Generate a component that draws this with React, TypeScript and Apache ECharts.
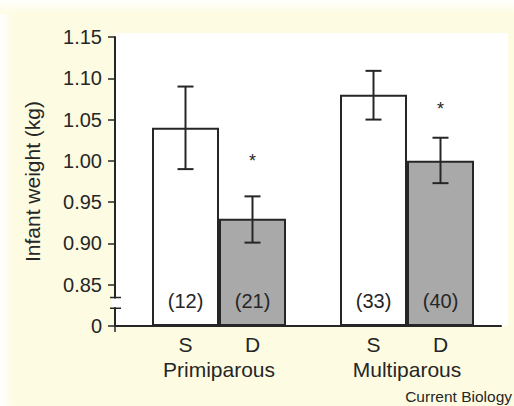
import React, { useEffect, useRef } from "react";
import * as echarts from "echarts";

const groups = ["Primiparous", "Multiparous"];
const subLabels = ["S", "D"];
const sMeans = [1.04, 1.08];
const sLow = [0.99, 1.05];
const sHigh = [1.09, 1.109];
const dMeans = [0.93, 1.0];
const dLow = [0.901, 0.973];
const dHigh = [0.957, 1.028];
const sN = [12, 33];
const dN = [21, 40];
const starY = [1.004, 1.066];
const yTicks = ["0", "0.85", "0.90", "0.95", "1.00", "1.05", "1.10", "1.15"];

const BASE = 0.8;
const FONT = "'Liberation Sans', Arial, Helvetica, sans-serif";
const BAR_W = 67;
const INK = "#262626";

function errSeries(low: number[], high: number[], offset: number) {
  return {
    type: "custom",
    z: 5,
    silent: true,
    data: low.map((l, i) => [i, l - BASE, high[i] - BASE]),
    renderItem: (params: any, api: any) => {
      const c = api.value(0);
      const lo = api.coord([c, api.value(1)]);
      const hi = api.coord([c, api.value(2)]);
      const x = lo[0] + offset;
      const cap = 8;
      const style = { stroke: INK, lineWidth: 2 };
      return {
        type: "group",
        children: [
          { type: "line", shape: { x1: x, y1: lo[1], x2: x, y2: hi[1] }, style },
          { type: "line", shape: { x1: x - cap, y1: lo[1], x2: x + cap, y2: lo[1] }, style },
          { type: "line", shape: { x1: x - cap, y1: hi[1], x2: x + cap, y2: hi[1] }, style },
        ],
      };
    },
  };
}

export default function App() {
  const ref = useRef<HTMLDivElement>(null);
  useEffect(() => {
    document.body.style.margin = "0";
    const chart = echarts.init(ref.current!, null, { renderer: "svg" });
    const option: any = {
      animation: false,
      backgroundColor: "#fdfce2",
      grid: { left: 125, right: 13, top: 37, bottom: 80, containLabel: false },
      xAxis: {
        type: "category",
        data: groups,
        axisLine: { lineStyle: { color: INK, width: 2 } },
        axisTick: {
          length: 5,
          lineStyle: { color: INK, width: 1.5 },
          interval: (index: number) => index !== 0,
        },
        axisLabel: {
          margin: 6,
          color: INK,
          fontFamily: FONT,
          formatter: (v: string) => `{s|${subLabels[0]}}{d|${subLabels[1]}}\n{n|${v}}`,
          rich: {
            s: { width: BAR_W, align: "center", fontSize: 21, fontFamily: FONT, color: INK, lineHeight: 24 },
            d: { width: BAR_W, align: "center", fontSize: 21, fontFamily: FONT, color: INK, lineHeight: 24 },
            n: { fontSize: 21, fontFamily: FONT, color: INK, lineHeight: 26 },
          },
        },
      },
      yAxis: {
        type: "value",
        min: 0,
        max: 0.35,
        interval: 0.05,
        offset: 10,
        name: "Infant weight (kg)",
        nameLocation: "middle",
        nameGap: 72,
        nameTextStyle: { fontSize: 21, fontFamily: FONT, color: INK },
        axisLine: { show: true, lineStyle: { color: INK, width: 2 } },
        axisTick: { show: true, length: 7, lineStyle: { color: INK, width: 1.5 } },
        splitLine: { show: false },
        axisLabel: {
          margin: 13,
          fontSize: 20,
          fontFamily: FONT,
          color: INK,
          formatter: (v: number) => yTicks[Math.round(v / 0.05)],
        },
      },
      series: [
        {
          type: "bar",
          name: "S",
          data: sMeans.map((v) => v - BASE),
          barWidth: BAR_W,
          barGap: "0%",
          itemStyle: { color: "#ffffff", borderColor: INK, borderWidth: 2 },
          label: {
            show: true,
            position: "insideBottom",
            distance: 15,
            fontSize: 20,
            fontFamily: FONT,
            color: INK,
            formatter: (p: any) => `(${sN[p.dataIndex]})`,
          },
        },
        {
          type: "bar",
          name: "D",
          data: dMeans.map((v) => v - BASE),
          barWidth: BAR_W,
          barGap: "0%",
          itemStyle: { color: "#a9a9a9", borderColor: INK, borderWidth: 2 },
          label: {
            show: true,
            position: "insideBottom",
            distance: 15,
            fontSize: 20,
            fontFamily: FONT,
            color: INK,
            formatter: (p: any) => `(${dN[p.dataIndex]})`,
          },
        },
        errSeries(sLow, sHigh, -BAR_W / 2),
        errSeries(dLow, dHigh, BAR_W / 2),
        {
          type: "custom",
          z: 5,
          silent: true,
          data: starY.map((v, i) => [i, v - BASE]),
          renderItem: (params: any, api: any) => {
            const p = api.coord([api.value(0), api.value(1)]);
            return {
              type: "text",
              x: p[0] + BAR_W / 2,
              y: p[1] + 3,
              style: {
                text: "*",
                fontSize: 18,
                fontFamily: FONT,
                fill: INK,
                align: "center",
                verticalAlign: "middle",
              },
            };
          },
        },
      ],
    };
    chart.setOption(option);

    const y0 = chart.convertToPixel({ yAxisIndex: 0 }, 0) as number;
    const yTop = chart.convertToPixel({ yAxisIndex: 0 }, 0.35) as number;
    const yb1 = chart.convertToPixel({ yAxisIndex: 0 }, 0.0345) as number;
    const yb2 = chart.convertToPixel({ yAxisIndex: 0 }, 0.0215) as number;
    const ax = 115;
    chart.setOption({
      graphic: [
        { type: "rect", z: -10, shape: { x: 0, y: 0, width: 14, height: 406 }, style: { fill: new echarts.graphic.LinearGradient(0, 0, 1, 0, [{ offset: 0, color: "#ffffff" }, { offset: 1, color: "#fdfce2" }]) } },
        { type: "rect", z: -10, shape: { x: 0, y: 0, width: 514, height: 14 }, style: { fill: new echarts.graphic.LinearGradient(0, 0, 0, 1, [{ offset: 0, color: "#ffffff" }, { offset: 1, color: "#fdfce2" }]) } },
        { type: "rect", z: -5, shape: { x: ax, y: yTop - 4, width: 508 - ax, height: y0 - yTop + 4 }, style: { fill: "#ffffff" } },
        { type: "line", z: 10, shape: { x1: ax, y1: y0, x2: 126, y2: y0 }, style: { stroke: INK, lineWidth: 2 } },
        { type: "line", z: 10, shape: { x1: ax, y1: y0, x2: ax, y2: y0 + 6 }, style: { stroke: INK, lineWidth: 1.5 } },
        { type: "rect", z: 10, shape: { x: ax - 3, y: yb1 + 1, width: 6, height: yb2 - yb1 - 2 }, style: { fill: "#ffffff" } },
        { type: "line", z: 11, shape: { x1: ax - 5, y1: yb1, x2: ax + 6, y2: yb1 }, style: { stroke: INK, lineWidth: 1.5 } },
        { type: "line", z: 11, shape: { x1: ax - 5, y1: yb2, x2: ax + 6, y2: yb2 }, style: { stroke: INK, lineWidth: 1.5 } },
        {
          type: "text",
          z: 10,
          x: 512,
          y: 396,
          style: { text: "Current Biology", fontSize: 15.5, fontFamily: FONT, fill: INK, align: "right", verticalAlign: "middle" },
        },
      ],
    });
    return () => chart.dispose();
  }, []);
  return <div ref={ref} style={{ width: 514, height: 406 }} />;
}
